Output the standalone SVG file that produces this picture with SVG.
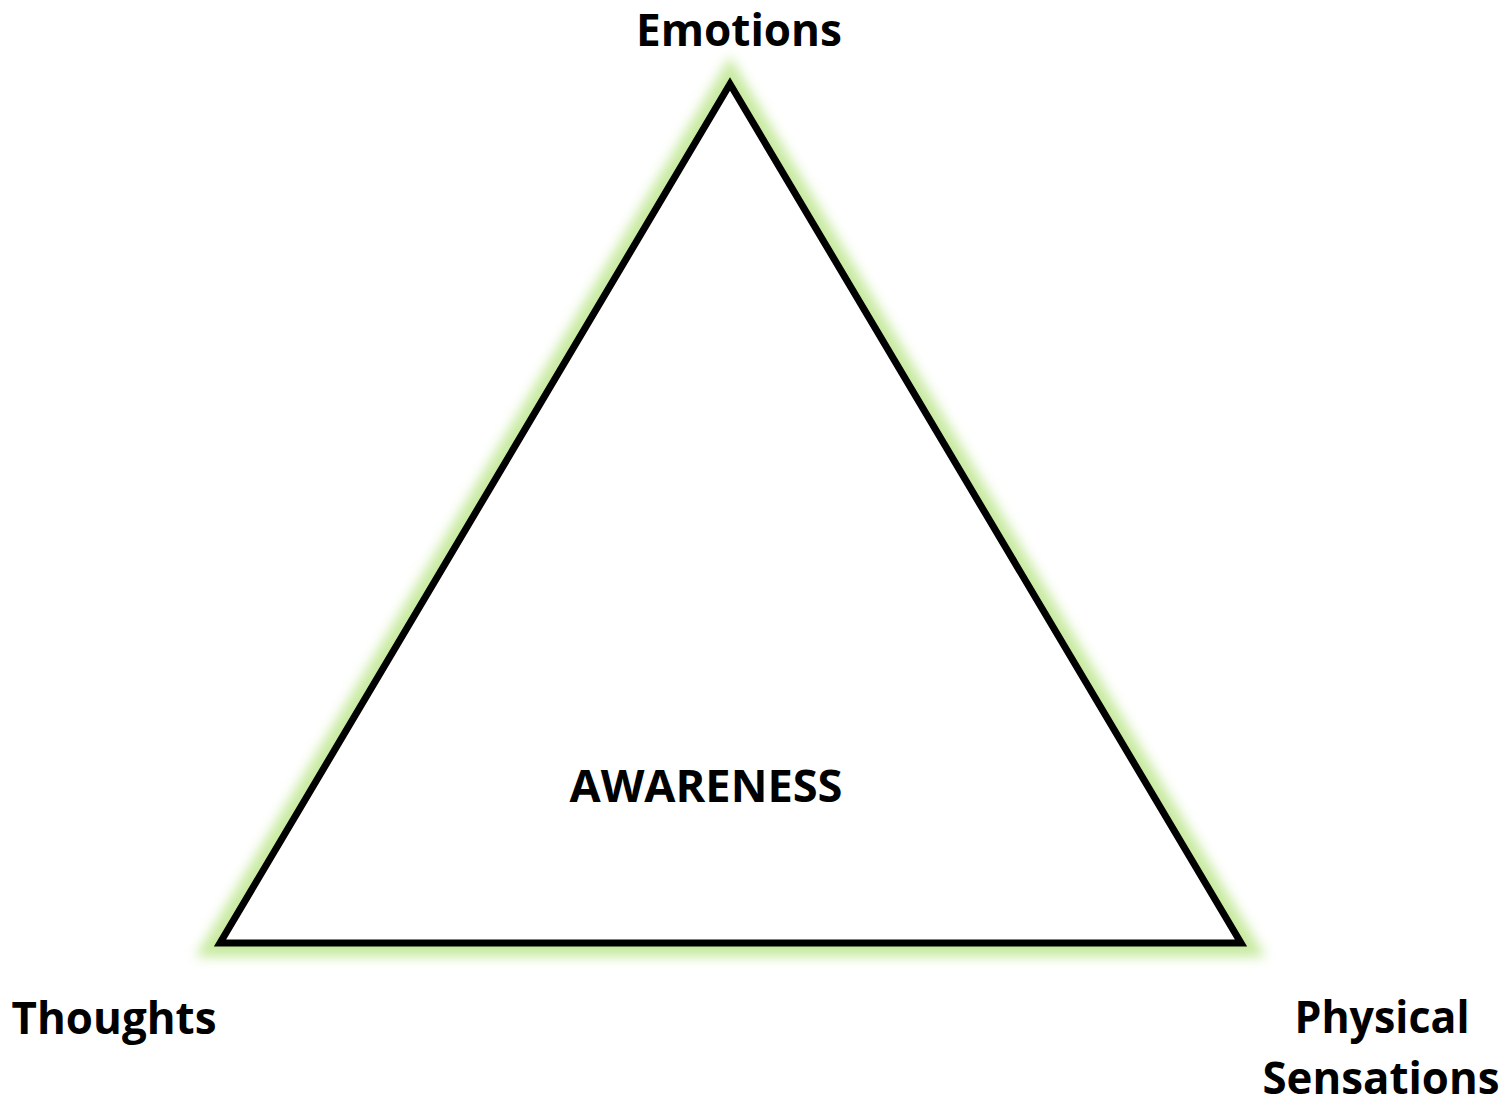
<svg xmlns="http://www.w3.org/2000/svg" width="1509" height="1104" viewBox="0 0 1509 1104">
<defs>
<filter id="glow" x="-10%" y="-10%" width="120%" height="120%">
<feGaussianBlur stdDeviation="6"/>
</filter>
<style>
.lbl{font-family:"Open Sans","Liberation Sans",sans-serif;font-weight:bold;font-size:44px;fill:#000;text-anchor:middle}
</style>
</defs>
<rect width="1509" height="1104" fill="#fff"/>
<g id="triangle">
<polygon points="730,84 220,943 1241,943" fill="none" stroke="#c8eaa0" stroke-width="28" stroke-linejoin="miter" filter="url(#glow)"/>
<polygon points="730,84 220,943 1241,943" fill="#fff" stroke="#000" stroke-width="7" stroke-linejoin="miter"/>
</g>
<g id="connectors"></g>
<g id="node-emotions"><text class="lbl" x="739" y="46" textLength="206" lengthAdjust="spacingAndGlyphs">Emotions</text></g>
<g id="node-awareness"><text class="lbl" x="706" y="802" textLength="273" lengthAdjust="spacingAndGlyphs">AWARENESS</text></g>
<g id="node-thoughts"><text class="lbl" x="114" y="1034" textLength="205" lengthAdjust="spacingAndGlyphs">Thoughts</text></g>
<g id="node-physical"><text class="lbl" x="1382" y="1033" textLength="175" lengthAdjust="spacingAndGlyphs">Physical</text><text class="lbl" x="1381" y="1094" textLength="237" lengthAdjust="spacingAndGlyphs">Sensations</text></g>
</svg>
